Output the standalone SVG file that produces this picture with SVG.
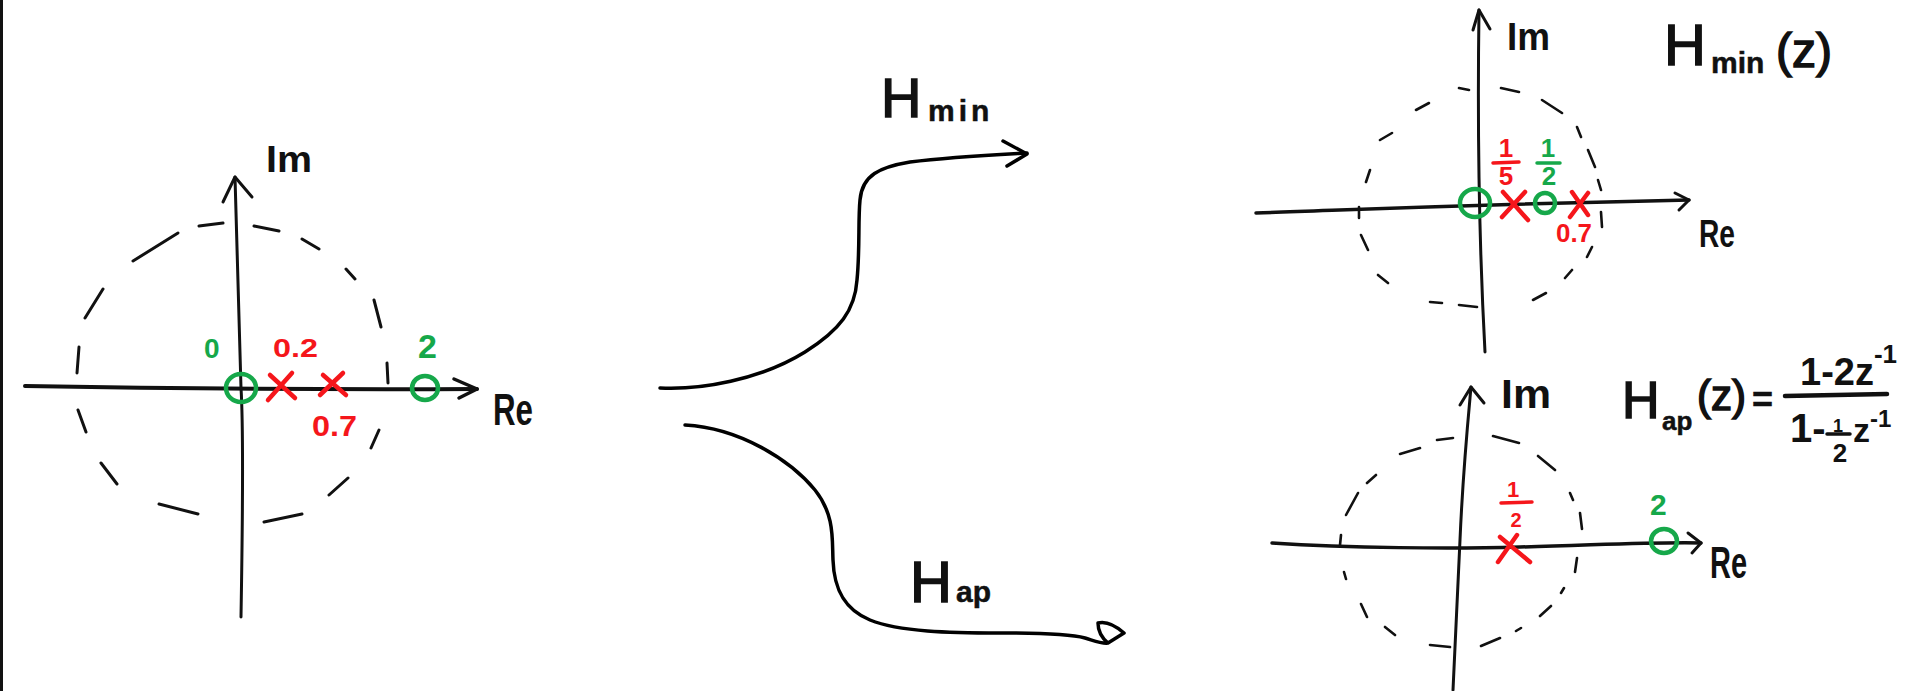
<svg xmlns="http://www.w3.org/2000/svg" width="1915" height="691" viewBox="0 0 1915 691">
<style>
.ax{fill:none;stroke:#111;stroke-width:3.5;stroke-linecap:round;stroke-linejoin:round}
.dash{fill:none;stroke:#111;stroke-width:2.6;stroke-linecap:round}
.zero{fill:none;stroke:#16a84a;stroke-width:4.5}
.pole{fill:none;stroke:#f5161b;stroke-width:4.5;stroke-linecap:round}
.rbar{stroke:#f5161b;stroke-width:3.5;stroke-linecap:round}
.gbar{stroke:#16a84a;stroke-width:3.5;stroke-linecap:round}
.kbar{stroke:#111;stroke-width:4.5;stroke-linecap:round}
.conn{fill:none;stroke:#000;stroke-width:3.5;stroke-linecap:round;stroke-linejoin:round}
.hw{font-family:"Liberation Sans",Arial,sans-serif;font-weight:bold;fill:#111}
.r{fill:#f5161b}
.g{fill:#16a84a}
</style>
<rect x="0" y="0" width="3" height="691" fill="#111"/>

<g id="plane-original">
  <path class="dash" d="M199,226 L223,223 M254,226 L279,231 M302,239 L319,249 M346,269 L355,279 M374,300 L381,327 M387,363 L388,383 M379,430 L371,448 M348,478 L329,495 M302,514 L264,522 M198,514 L159,504 M117,484 L101,463 M86,432 L78,410 M77,373 L79,347 M85,318 L103,289 M133,261 L178,233" style="stroke-width:3"/>
  <path class="ax" d="M25,386 Q250,390 477,389" style="stroke-width:4"/>
  <path class="ax" d="M454,379 L477,389 L459,398"/>
  <path class="ax" d="M241,617 C243,500 243,420 241,388 C239,300 236,230 235,177" style="stroke-width:3"/>
  <path class="ax" d="M223,202 L235,177 L252,197" style="stroke-width:3"/>
  <text class="hw" x="266" y="172" font-size="36" textLength="46" lengthAdjust="spacingAndGlyphs">Im</text>
  <text class="hw" x="493" y="425" font-size="44" textLength="40" lengthAdjust="spacingAndGlyphs">Re</text>
  <ellipse class="zero" cx="241" cy="388" rx="15" ry="14"/>
  <ellipse class="zero" cx="425" cy="388" rx="13" ry="12"/>
  <path class="pole" d="M270,375 L295,398 M292,373 L268,400 M323,375 L346,395 M343,373 L320,395"/>
  <text class="hw g" x="204" y="358" font-size="28">0</text>
  <text class="hw g" x="418" y="358" font-size="34">2</text>
  <text class="hw r" x="273" y="357" font-size="26" textLength="45" lengthAdjust="spacingAndGlyphs">0.2</text>
  <text class="hw r" x="312" y="436" font-size="30" textLength="45" lengthAdjust="spacingAndGlyphs">0.7</text>
</g>

<g id="connectors">
  <path class="conn" d="M660,388 C700,390 760,380 805,352 C840,330 855,310 857,280 C860,250 858,220 860,200 C862,175 880,167 910,162 C950,157 990,155 1027,153"/>
  <path class="conn" d="M1003,141 L1027,154 L1007,166"/>
  <path class="conn" d="M685,425 C740,428 790,460 815,490 C835,515 832,540 833,560 C834,590 845,610 870,620 C900,632 950,633 1000,633 C1040,633 1070,634 1085,638 C1095,641 1102,644 1108,643 L1124,633 C1116,626 1106,621 1098,623 C1098,632 1102,638 1108,643"/>
</g>

<g id="label-min">
  <text class="hw" x="881" y="117" font-size="56" style="font-weight:normal;stroke:#111;stroke-width:1.5">H<tspan x="928" y="121" font-size="30" letter-spacing="4" style="font-weight:bold;stroke-width:0.5">min</tspan></text>
</g>
<g id="label-ap">
  <text class="hw" x="910" y="602" font-size="58" style="font-weight:normal;stroke:#111;stroke-width:1.5">H<tspan x="956" y="602" font-size="30" style="font-weight:bold;stroke-width:0.5">ap</tspan></text>
</g>

<g id="plane-min">
  <path class="dash" d="M1459,88 L1469,90 M1501,88 L1519,92 M1542,100 L1562,113 M1577,127 L1581,137 M1588,150 L1595,167 M1598,180 L1601,190 M1601,212 L1602,227 M1592,247 L1587,257 M1572,270 L1565,278 M1546,293 L1533,300 M1477,307 L1459,305 M1442,303 L1430,302 M1388,283 L1378,275 M1368,250 L1361,235 M1359,218 L1359,207 M1366,182 L1370,170 M1380,140 L1392,133 M1416,110 L1429,103"/>
  <path class="ax" d="M1256,213 C1350,210 1450,205 1689,200"/>
  <path class="ax" d="M1675,193 L1689,200 L1679,210" style="stroke-width:3"/>
  <path class="ax" d="M1485,352 C1480,260 1477,150 1479,10" style="stroke-width:3"/>
  <path class="ax" d="M1473,30 L1479,10 L1490,29" style="stroke-width:3"/>
  <text class="hw" x="1507" y="50" font-size="38" textLength="43" lengthAdjust="spacingAndGlyphs">Im</text>
  <text class="hw" x="1699" y="247" font-size="38" textLength="36" lengthAdjust="spacingAndGlyphs">Re</text>
  <ellipse class="zero" cx="1475" cy="203" rx="15" ry="14"/>
  <ellipse class="zero" cx="1545" cy="203" rx="10" ry="10"/>
  <path class="pole" d="M1503,192 L1528,220 M1525,192 L1502,217 M1572,192 L1588,215 M1588,193 L1570,217"/>
  <text class="hw r" x="1506" y="157" font-size="26" text-anchor="middle">1</text>
  <line class="rbar" x1="1493" y1="163" x2="1519" y2="162"/>
  <text class="hw r" x="1506" y="185" font-size="26" text-anchor="middle">5</text>
  <text class="hw g" x="1548" y="157" font-size="26" text-anchor="middle">1</text>
  <line class="gbar" x1="1537" y1="163" x2="1560" y2="163"/>
  <text class="hw g" x="1549" y="185" font-size="26" text-anchor="middle">2</text>
  <text class="hw r" x="1556" y="242" font-size="26" textLength="36" lengthAdjust="spacingAndGlyphs">0.7</text>
  <text class="hw" x="1664" y="65" font-size="58" style="font-weight:normal;stroke:#111;stroke-width:1.5">H<tspan x="1711" y="73" font-size="30" style="font-weight:bold;stroke-width:0.5">min</tspan><tspan x="1776" y="67" font-size="48" style="font-weight:normal;stroke-width:1.5">(z)</tspan></text>
</g>

<g id="plane-ap">
  <path class="dash" d="M1437,440 L1453,438 M1493,436 L1519,443 M1538,456 L1555,470 M1570,493 L1573,500 M1580,513 L1582,529 M1577,558 L1575,572 M1564,588 L1561,593 M1551,606 L1540,616 M1521,628 L1516,631 M1500,638 L1481,646 M1450,647 L1430,645 M1395,635 L1385,627 M1367,617 L1361,604 M1346,579 L1344,572 M1340,545 L1341,535 M1346,515 L1358,493 M1367,483 L1376,475 M1400,454 L1420,448"/>
  <path class="ax" d="M1272,543 C1350,548 1450,549 1520,547 C1600,545 1650,542 1701,543"/>
  <path class="ax" d="M1688,533 L1701,543 L1692,553" style="stroke-width:3"/>
  <path class="ax" d="M1453,690 C1456,620 1459,560 1460,540 C1463,470 1468,420 1471,387" style="stroke-width:3"/>
  <path class="ax" d="M1460,405 L1471,387 L1484,403" style="stroke-width:3"/>
  <text class="hw" x="1501" y="408" font-size="40" textLength="50" lengthAdjust="spacingAndGlyphs">Im</text>
  <text class="hw" x="1710" y="578" font-size="44" textLength="37" lengthAdjust="spacingAndGlyphs">Re</text>
  <ellipse class="zero" cx="1664" cy="541" rx="13" ry="12"/>
  <path class="pole" d="M1500,537 L1530,562 M1517,535 L1498,562"/>
  <text class="hw r" x="1513" y="497" font-size="22" text-anchor="middle">1</text>
  <line class="rbar" x1="1501" y1="503" x2="1532" y2="502"/>
  <text class="hw r" x="1516" y="527" font-size="20" text-anchor="middle">2</text>
  <text class="hw g" x="1650" y="515" font-size="30">2</text>
</g>

<g id="formula">
  <text class="hw" x="1622" y="418" font-size="52" style="font-weight:normal;stroke:#111;stroke-width:1.5">H<tspan x="1662" y="430" font-size="26" style="font-weight:bold;stroke-width:0.5">ap</tspan><tspan x="1697" y="410" font-size="42" style="font-weight:normal;stroke-width:1.5">(z)</tspan><tspan x="1752" y="412" font-size="36" style="font-weight:bold;stroke-width:0.5">=</tspan></text>
  <line class="kbar" x1="1785" y1="396" x2="1887" y2="394"/>
  <text class="hw" x="1800" y="385" font-size="38">1-2z<tspan y="363" font-size="26">-1</tspan></text>
  <text class="hw" x="1790" y="442" font-size="40">1-</text>
  <text class="hw" x="1838" y="432" font-size="18" text-anchor="middle">1</text>
  <line class="kbar" x1="1827" y1="434" x2="1850" y2="434" style="stroke-width:3.5"/>
  <text class="hw" x="1840" y="462" font-size="26" text-anchor="middle">2</text>
  <text class="hw" x="1853" y="442" font-size="34">z<tspan y="427" font-size="24">-1</tspan></text>
</g>
</svg>
